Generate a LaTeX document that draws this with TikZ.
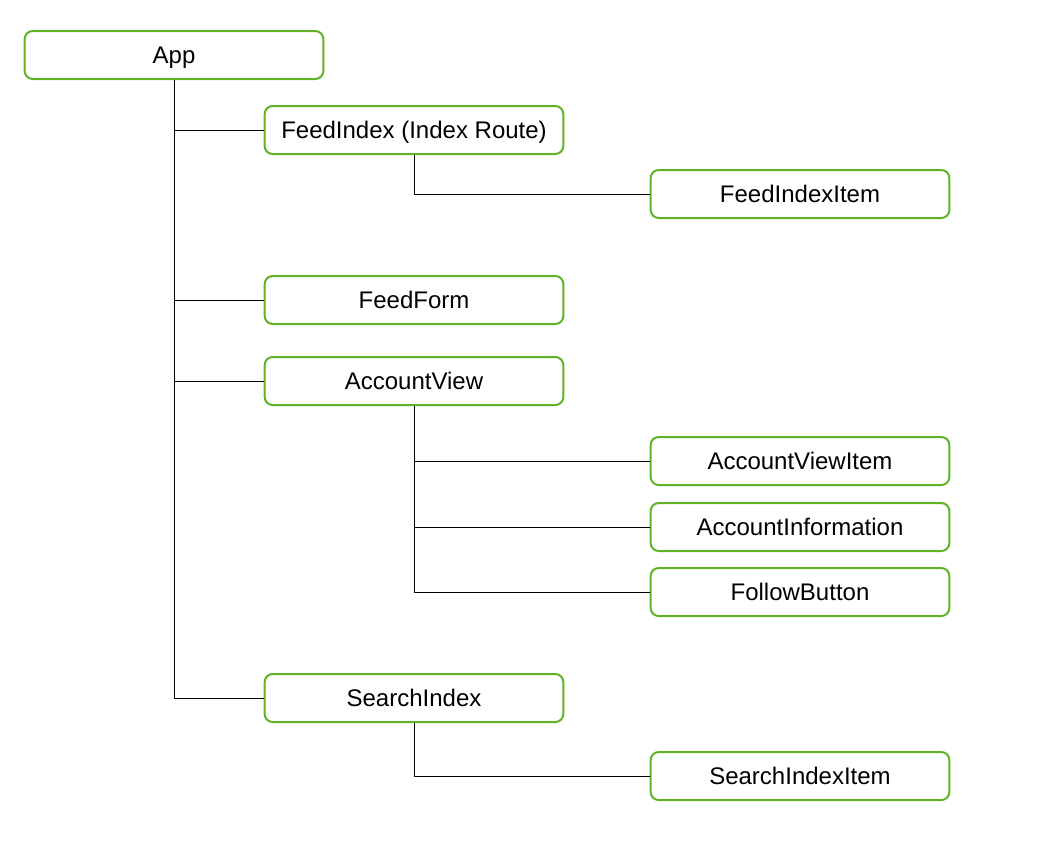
\documentclass[tikz,border=0pt]{standalone}
\usepackage{fontspec}
\setmainfont{Liberation Sans}
\usepackage{xcolor}
\usepackage{tikz}
\usetikzlibrary{positioning}
\definecolor{TreeGreen}{RGB}{98,178,40}
\definecolor{TreeLine}{RGB}{0,0,0}

\begin{document}
\begin{tikzpicture}[
x=0.75pt,
y=-0.75pt,
comp/.style={
draw=TreeGreen,
line width=1.5pt,
rounded corners=6pt,
minimum width=224pt,
minimum height=36pt,
text height=12.9pt,
text depth=0pt,
fill=white,
font=\fontsize{18}{21}\selectfont
},
link/.style={
draw=TreeLine,
line width=0.75pt
}
]
\useasboundingbox (0,0) rectangle (1052,864);

\node[comp] (app) at (174,55) {App};
\node[comp] (feedindex) at (414,130) {FeedIndex (Index Route)};
\node[comp] (feedindexitem) at (800,194) {FeedIndexItem};
\node[comp] (feedform) at (414,300) {FeedForm};
\node[comp] (accountview) at (414,381) {AccountView};
\node[comp] (accountviewitem) at (800,461) {AccountViewItem};
\node[comp] (accountinfo) at (800,527) {AccountInformation};
\node[comp] (followbutton) at (800,592) {FollowButton};
\node[comp] (searchindex) at (414,698) {SearchIndex};
\node[comp] (searchindexitem) at (800,776) {SearchIndexItem};

% App children
\draw[link] (app.south) |- (searchindex.west);
\draw[link] (app.south) |- (feedindex.west);
\draw[link] (app.south) |- (feedform.west);
\draw[link] (app.south) |- (accountview.west);

% nested children
\draw[link] (feedindex.south) |- (feedindexitem.west);
\draw[link] (accountview.south) |- (accountviewitem.west);
\draw[link] (accountview.south) |- (accountinfo.west);
\draw[link] (accountview.south) |- (followbutton.west);
\draw[link] (searchindex.south) |- (searchindexitem.west);
\end{tikzpicture}
\end{document}
